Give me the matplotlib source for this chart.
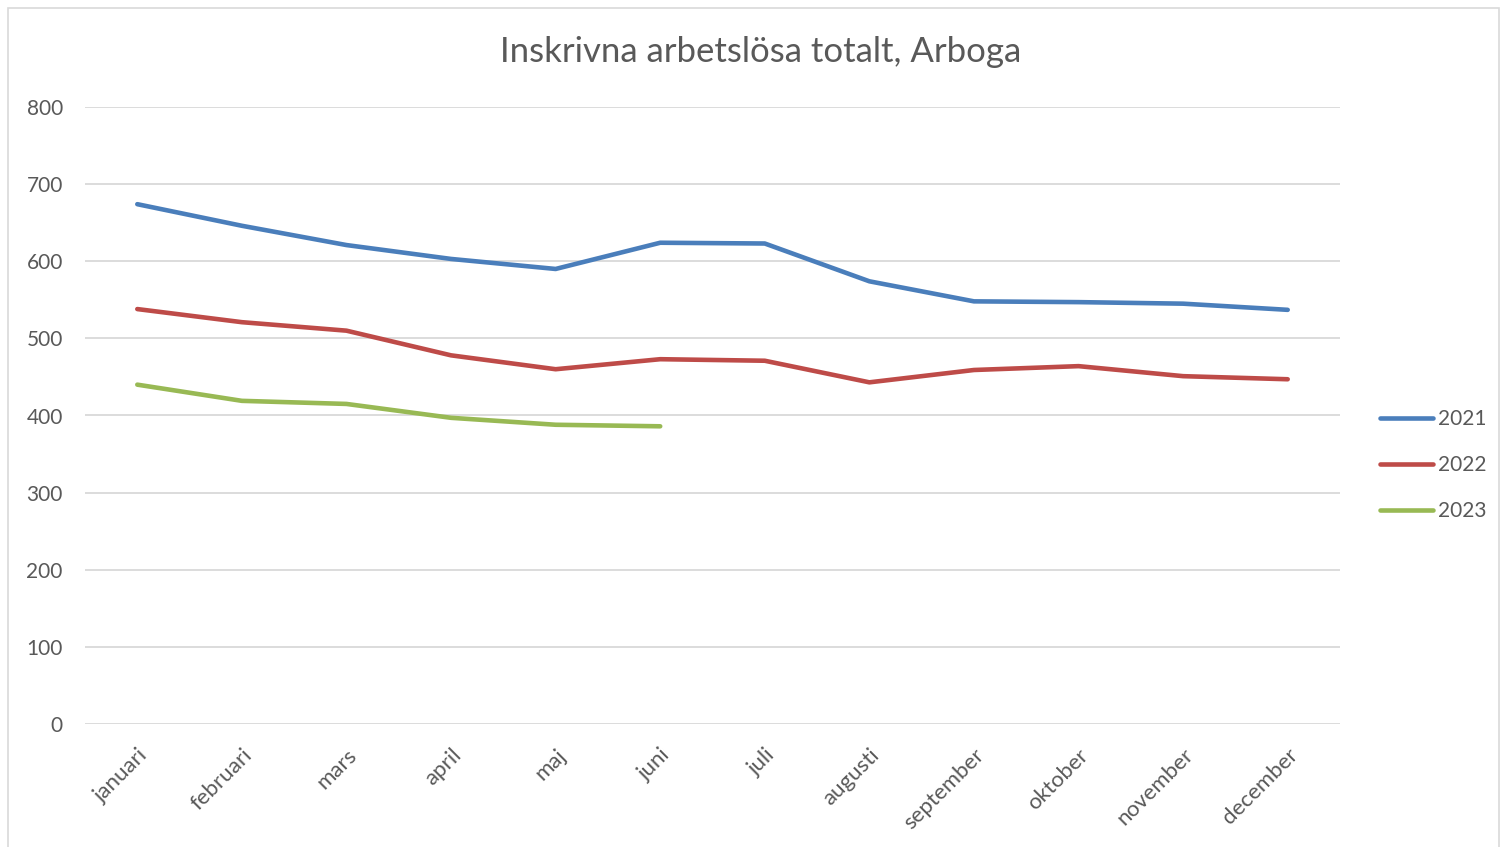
import matplotlib.pyplot as plt
from matplotlib.patches import Rectangle

manader = ["januari", "februari", "mars", "april", "maj", "juni", "juli",
           "augusti", "september", "oktober", "november", "december"]
ar2021 = [674, 646, 621, 603, 590, 624, 623, 574, 548, 547, 545, 537]
ar2022 = [538, 521, 510, 478, 460, 473, 471, 443, 459, 464, 451, 447]
ar2023 = [440, 419, 415, 397, 388, 386]

plt.rcParams["font.family"] = ["Lato", "DejaVu Sans"]
grå = "#595959"

fig = plt.figure(figsize=(15.07, 8.47), dpi=100)
fig.add_artist(Rectangle((8 / 1507, -0.01), 1491 / 1507, 1 - 8 / 847 + 0.01,
                         transform=fig.transFigure, fill=False,
                         edgecolor="#d9d9d9", linewidth=1.2))

ax = fig.add_axes([85 / 1507, 1 - 724 / 847, 1255 / 1507, 617 / 847])
x = range(len(manader))
ax.plot(x, ar2021, color="#4a7ebb", lw=3.3, solid_capstyle="round", label="2021")
ax.plot(x, ar2022, color="#be4b48", lw=3.3, solid_capstyle="round", label="2022")
ax.plot(range(len(ar2023)), ar2023, color="#98b954", lw=3.3, solid_capstyle="round", label="2023")

ax.set_xlim(-0.5, 11.5)
ax.set_ylim(0, 800)
ax.set_yticks(range(0, 801, 100))
ax.set_xticks(list(x))
ax.set_xticklabels(manader, rotation=45, ha="right", rotation_mode="anchor")
ax.grid(axis="y", color="#d9d9d9", lw=1.3)
ax.set_axisbelow(True)
for s in ax.spines.values():
    s.set_visible(False)
ax.tick_params(axis="both", length=0, labelsize=15, colors=grå)
ax.tick_params(axis="x", labelsize=16, pad=15)
ax.tick_params(axis="y", pad=16)

fig.suptitle("Inskrivna arbetslösa totalt, Arboga", x=761 / 1507, y=1 - 52 / 847,
             va="center", fontsize=25, color=grå)

leg = fig.legend(loc="center left", bbox_to_anchor=(1380 / 1507, 1 - 465 / 847),
                 frameon=False, fontsize=15, handlelength=2.55, handletextpad=0.25,
                 labelspacing=1.25, borderpad=0, borderaxespad=0)
for t in leg.get_texts():
    t.set_color(grå)

fig.savefig("out.png", dpi=100)
